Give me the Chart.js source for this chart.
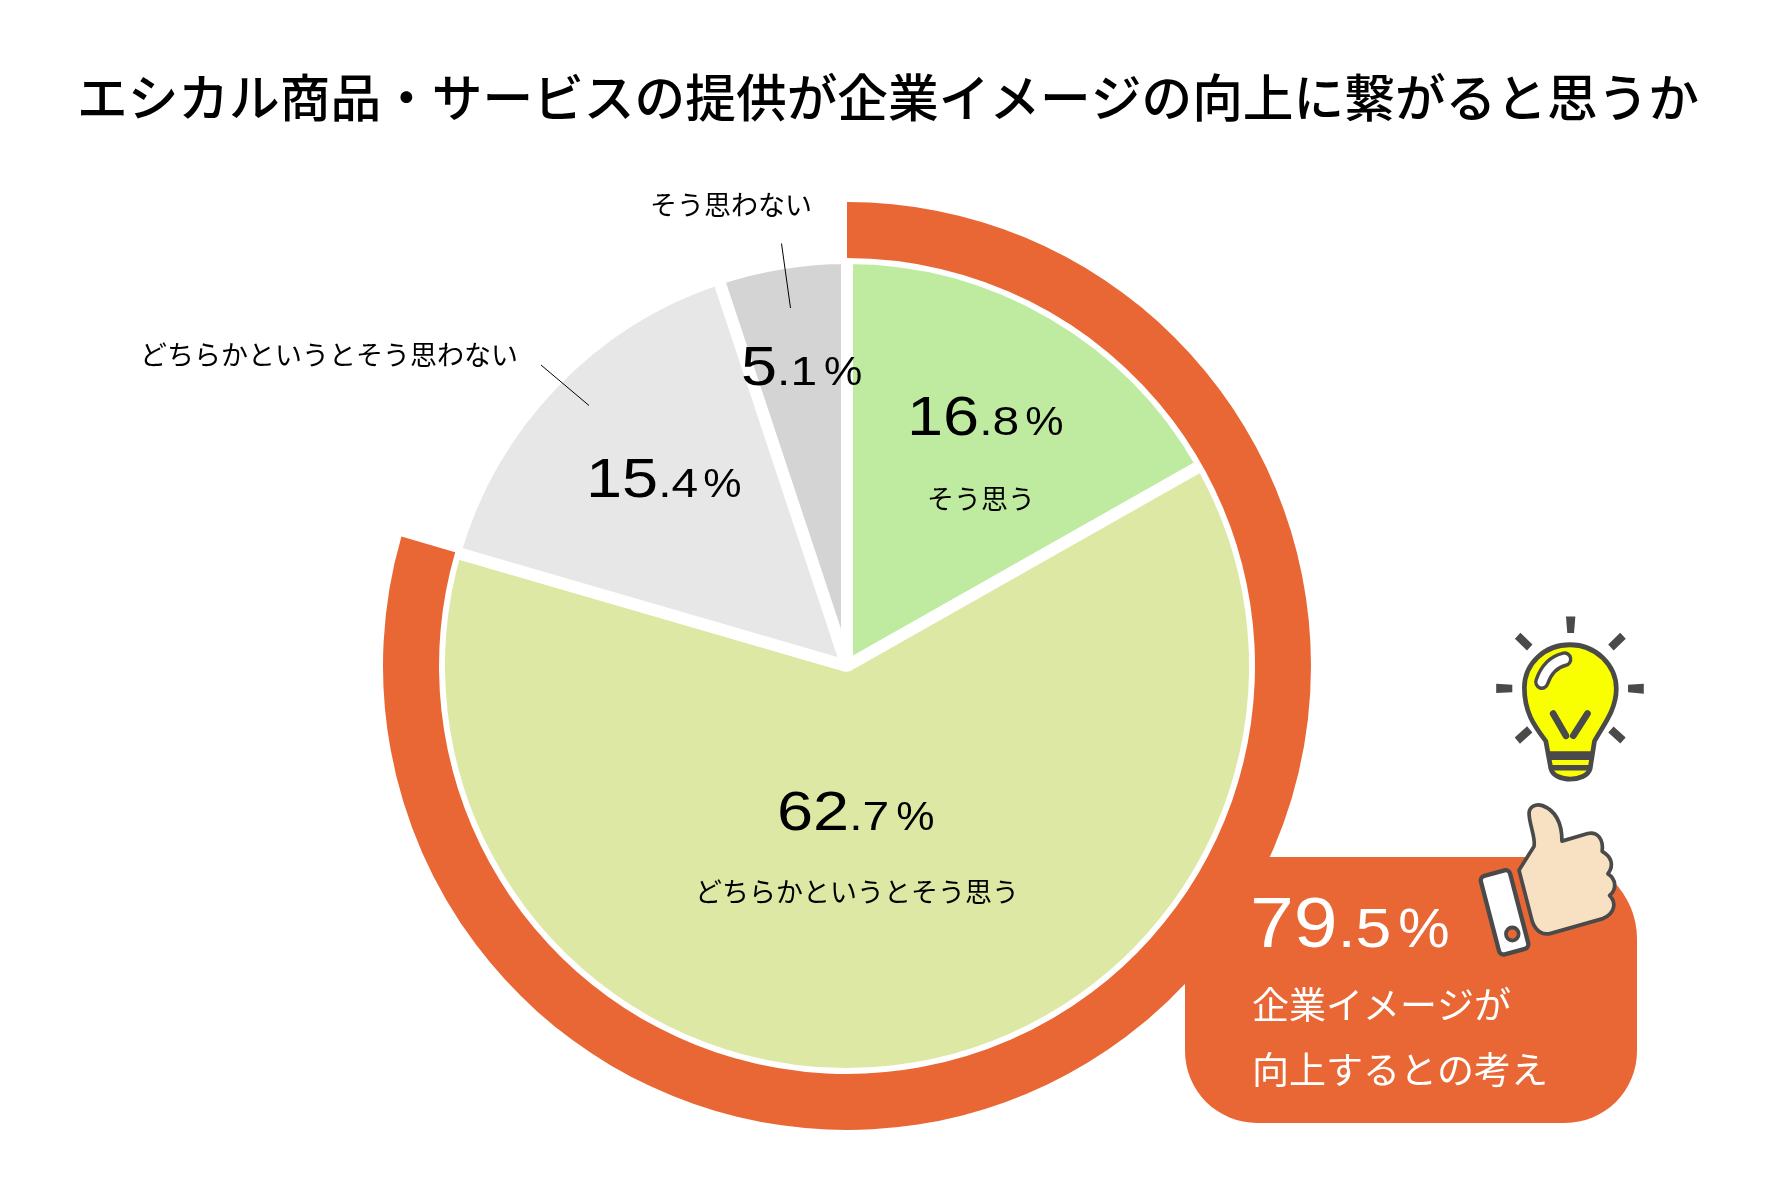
<!DOCTYPE html>
<html lang="ja">
<head>
<meta charset="utf-8">
<style>
html,body{margin:0;padding:0;background:#fff}
#wrap{position:relative;width:1776px;height:1198px;overflow:hidden}
canvas{position:absolute;left:0;top:0}
svg{position:absolute;left:1150px;top:600px}
</style>
<script src="https://cdn.jsdelivr.net/npm/chart.js@4"></script>
</head>
<body>
<div id="wrap">
<canvas id="c" width="1776" height="1198"></canvas>
<svg width="526" height="540" viewBox="0 0 1568 1568" preserveAspectRatio="none">
  <g fill="#4a4a4a">
    <path d="M1240 48H1268L1264 96H1244Z"/>
    <path d="M1032 243L1080 246V268L1032 270Z"/>
    <path d="M1425 246L1472 243V272L1425 268Z"/>
  </g>
  <g stroke="#4a4a4a" stroke-width="24" fill="none">
    <path d="M1096 104L1132 138M1410 104L1374 138M1132 376L1095 408M1374 376L1410 408"/>
  </g>
  <path d="M1180 410C1150 370 1116 330 1116 255C1116 185 1176 130 1252 130C1330 130 1390 190 1390 258C1390 320 1350 365 1325 410L1312 490C1300 530 1205 530 1195 490Z" fill="#f9ff00" stroke="#4a4a4a" stroke-width="14" stroke-linejoin="round"/>
  <path d="M1188 452H1318" stroke="#4a4a4a" stroke-width="25" fill="none"/>
  <path d="M1195 487H1310" stroke="#4a4a4a" stroke-width="16" fill="none"/>
  <path d="M1168 238C1180 205 1200 180 1236 172" stroke="#4a4a4a" stroke-width="46" stroke-linecap="round" fill="none"/>
  <path d="M1168 238C1180 205 1200 180 1236 172" stroke="#fff" stroke-width="26" stroke-linecap="round" fill="none"/>
  <path d="M1202 330L1240 394M1304 330L1262 394" stroke="#4a4a4a" stroke-width="20" stroke-linecap="round" fill="none"/>
  <path d="M1100 785L1145 715C1150 690 1130 650 1130 620C1130 600 1150 590 1170 597C1205 610 1228 640 1228 700L1305 678C1335 672 1352 695 1348 730C1375 745 1385 770 1365 795C1390 810 1392 840 1370 858C1392 880 1385 910 1350 925L1195 968C1170 975 1150 960 1140 935Z" fill="#f8e1c3" stroke="#4a4a4a" stroke-width="11" stroke-linejoin="round"/>
  <rect x="1012" y="789" width="90" height="236" rx="14" transform="rotate(-15 1057 907)" fill="#fff" stroke="#4a4a4a" stroke-width="13"/>
  <circle cx="1080" cy="970" r="19" fill="#e96734" stroke="#4a4a4a" stroke-width="11"/>
</svg>
</div>
<script>
const TITLE = 'エシカル商品・サービスの提供が企業イメージの向上に繋がると思うか';
const categories = ['そう思う', 'どちらかというとそう思う', 'どちらかというとそう思わない', 'そう思わない'];
const shares = [16.8, 62.7, 15.4, 5.1];
const sliceColors = ['#bfeba0', '#dce8a4', '#e7e7e7', '#d4d4d4'];
const positiveShare = 79.5;
const remainderShare = 20.5;
const calloutLines = ['企業イメージが', '向上するとの考え'];

const ORANGE = '#e96734';
const CJK = '"Noto Sans CJK JP"';
const NUM = '"Liberation Sans"';

function pct(ctx, value, x, base, bigSize, smallSize, color, gap, bigScale) {
  const [a, b] = String(value).split('.');
  const smallScale = 1.17;
  ctx.save();
  ctx.fillStyle = color;
  ctx.textAlign = 'left';
  ctx.textBaseline = 'alphabetic';
  ctx.translate(x, base);
  ctx.font = bigSize + 'px ' + NUM;
  ctx.save(); ctx.scale(bigScale, 1); ctx.fillText(a, 0, 0); ctx.restore();
  let w = ctx.measureText(a).width * bigScale;
  ctx.font = smallSize + 'px ' + NUM;
  ctx.save(); ctx.translate(w, 0); ctx.scale(smallScale, 1); ctx.fillText('.' + b, 0, 0); ctx.restore();
  w += ctx.measureText('.' + b).width * smallScale + gap;
  ctx.save(); ctx.translate(w, 0); ctx.scale(1.05, 1); ctx.fillText('%', 0, 0); ctx.restore();
  ctx.restore();
}
function label(ctx, text, x, y, size, color, weight, align) {
  ctx.save();
  ctx.font = (weight || 'normal') + ' ' + size + 'px ' + CJK;
  ctx.fillStyle = color;
  ctx.textAlign = align || 'center';
  ctx.textBaseline = 'middle';
  ctx.fillText(text, x, y);
  ctx.restore();
}

const decor = {
  id: 'decor',
  beforeDatasetsDraw(chart) {
    const ctx = chart.ctx;
    ctx.save();
    ctx.fillStyle = ORANGE;
    ctx.beginPath();
    ctx.roundRect(1185, 857, 452, 266, [0, 82, 72, 72]);
    ctx.fill();
    ctx.restore();
  },
  afterDatasetsDraw(chart) {
    const ctx = chart.ctx;
    ctx.save();
    ctx.strokeStyle = '#000';
    ctx.lineWidth = 1;
    ctx.beginPath();
    ctx.moveTo(781.5, 243.5); ctx.lineTo(790.5, 308);
    ctx.moveTo(541, 365); ctx.lineTo(589, 405.5);
    ctx.stroke();
    ctx.restore();

    label(ctx, TITLE, 888, 98, 50.7, '#000', '500');

    label(ctx, categories[0], 981, 499, 27, '#000');
    label(ctx, categories[1], 857, 892, 27, '#000');
    label(ctx, categories[2], 329, 355, 27, '#000');
    label(ctx, categories[3], 731, 205, 27, '#000');

    pct(ctx, shares[0], 907, 435, 55, 41, '#000', 6, 1.18);
    pct(ctx, shares[1], 777, 830, 55, 41, '#000', 7, 1.18);
    pct(ctx, shares[2], 586, 497, 55, 41, '#000', 5, 1.18);
    pct(ctx, shares[3], 741, 385, 55, 41, '#000', 7, 1.18);
    pct(ctx, positiveShare, 1250, 947, 71, 55, '#fff', 7, 1.11);

    label(ctx, calloutLines[0], 1252, 1005, 37, '#fff', 'normal', 'left');
    label(ctx, calloutLines[1], 1252, 1070, 37, '#fff', 'normal', 'left');
  }
};

new Chart(document.getElementById('c'), {
  type: 'doughnut',
  plugins: [decor],
  data: {
    labels: categories,
    datasets: [
      { data: [positiveShare, remainderShare], backgroundColor: [ORANGE, 'rgba(0,0,0,0)'], borderWidth: 0, weight: 56 },
      { data: shares, backgroundColor: sliceColors, borderColor: '#fff', borderWidth: 12, weight: 408 }
    ]
  },
  options: {
    responsive: false,
    animation: false,
    cutout: 0,
    layout: { padding: { left: 383, right: 465, top: 202, bottom: 68 } },
    plugins: { legend: { display: false }, tooltip: { enabled: false }, title: { display: false } }
  }
});
</script>
</body>
</html>
